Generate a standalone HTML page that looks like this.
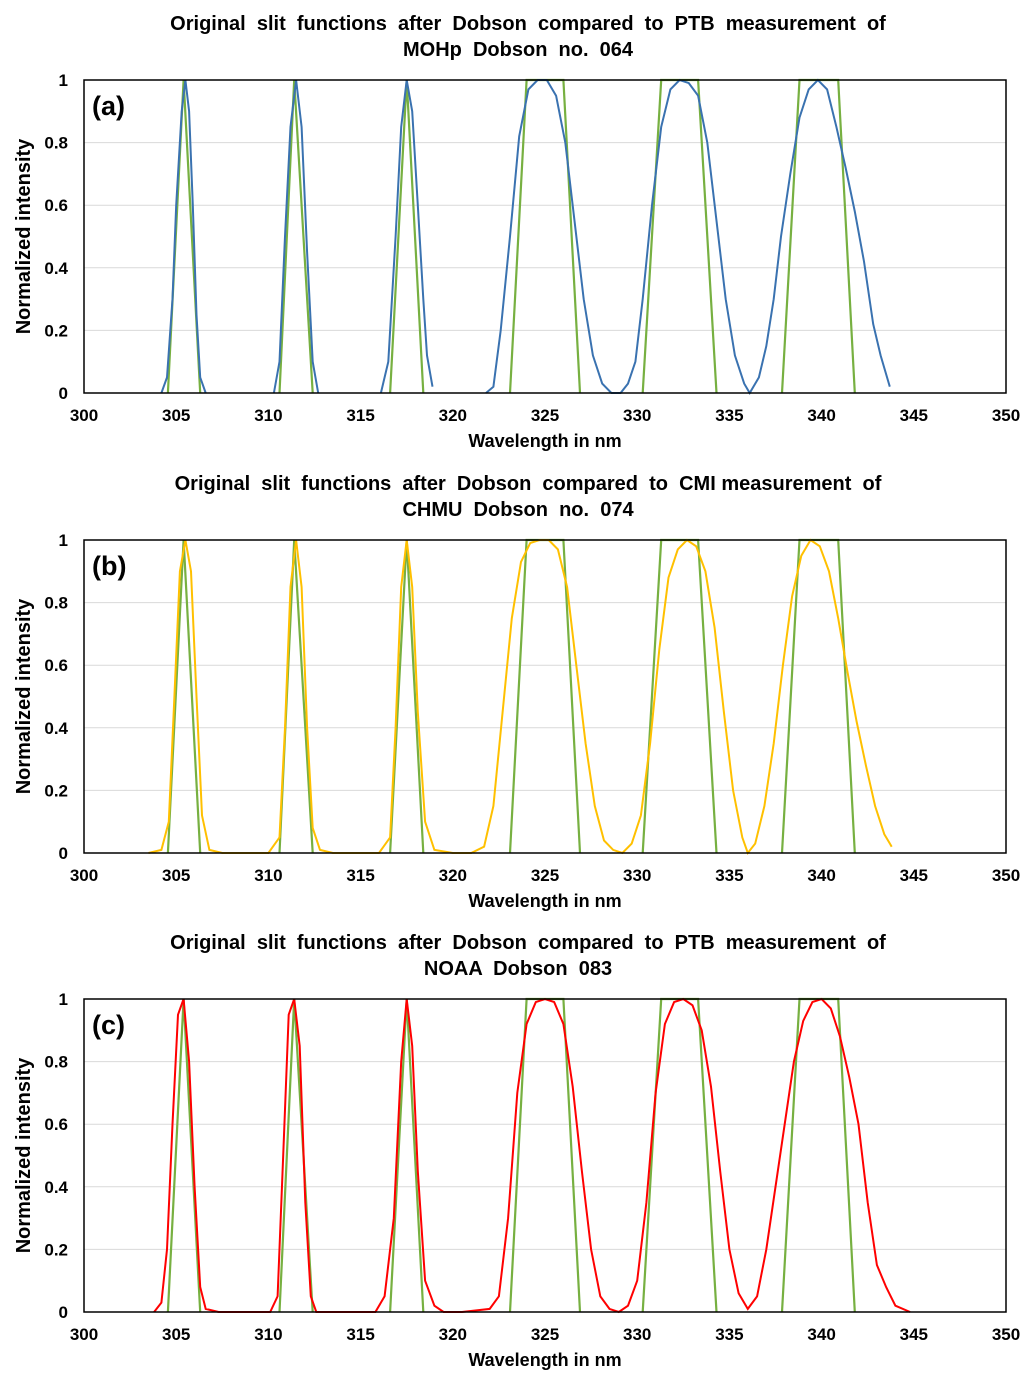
<!DOCTYPE html>
<html><head><meta charset="utf-8"><style>
body{margin:0;background:#fff}
svg{display:block;font-family:"Liberation Sans",Arial,sans-serif;font-weight:bold}
text{white-space:pre}
</style></head><body>
<svg id="chart" width="1036" height="1377" viewBox="0 0 1036 1377" xmlns="http://www.w3.org/2000/svg"></svg>
<script>
const xTicks=[300,305,310,315,320,325,330,335,340,345,350];
const yTicks=[0,0.2,0.4,0.6,0.8,1];
const yTickLabels=["0","0.2","0.4","0.6","0.8","1"];
const greenX=[304.55,305.4,306.3,null,310.6,311.4,312.4,null,316.6,317.5,318.4,null,323.1,324.0,326.0,326.9,null,330.3,331.3,333.3,334.3,null,337.85,338.8,340.9,341.8];
const greenY=[0,1,0,null,0,1,0,null,0,1,0,null,0,1,1,0,null,0,1,1,0,null,0,1,1,0];
const blueX=[304.2,304.5,304.8,305.0,305.3,305.5,305.7,305.9,306.1,306.3,306.6,null,310.3,310.6,310.9,311.2,311.5,311.8,312.1,312.4,312.7,null,316.1,316.5,316.9,317.2,317.5,317.8,318.1,318.4,318.6,318.9,null,321.8,322.2,322.6,323.1,323.6,324.1,324.6,325.1,325.6,326.1,326.6,327.1,327.6,328.1,328.6,329.1,329.5,329.9,330.3,330.8,331.3,331.8,332.3,332.8,333.3,333.8,334.3,334.8,335.3,335.8,336.1,336.6,337.0,337.4,337.8,338.3,338.8,339.3,339.8,340.3,340.8,341.3,341.8,342.3,342.8,343.2,343.7];
const blueY=[0,0.05,0.3,0.6,0.9,1.0,0.9,0.6,0.25,0.05,0,null,0,0.1,0.5,0.85,1.0,0.85,0.45,0.1,0,null,0,0.1,0.5,0.85,1.0,0.9,0.6,0.3,0.12,0.02,null,0,0.02,0.2,0.5,0.82,0.97,1.0,1.0,0.95,0.8,0.55,0.3,0.12,0.03,0,0,0.03,0.1,0.3,0.6,0.85,0.97,1.0,0.99,0.95,0.8,0.55,0.3,0.12,0.03,0,0.05,0.15,0.3,0.5,0.7,0.88,0.97,1.0,0.97,0.85,0.72,0.58,0.42,0.22,0.12,0.02];
const yellowX=[303.5,304.2,304.6,304.9,305.2,305.5,305.8,306.1,306.4,306.8,307.5,310.0,310.6,310.9,311.2,311.5,311.8,312.1,312.4,312.8,313.5,316.0,316.6,316.9,317.2,317.5,317.8,318.1,318.5,319.0,320.0,321.0,321.7,322.2,322.7,323.2,323.7,324.2,324.7,325.2,325.7,326.2,326.7,327.2,327.7,328.2,328.7,329.2,329.7,330.2,330.7,331.2,331.7,332.2,332.7,333.2,333.7,334.2,334.7,335.2,335.7,336.0,336.4,336.9,337.4,337.9,338.4,338.9,339.4,339.9,340.4,340.9,341.4,341.9,342.4,342.9,343.4,343.8];
const yellowY=[0,0.01,0.1,0.5,0.9,1.0,0.9,0.5,0.12,0.01,0,0,0.05,0.4,0.85,1.0,0.85,0.4,0.08,0.01,0,0,0.05,0.4,0.85,1.0,0.85,0.45,0.1,0.01,0,0,0.02,0.15,0.45,0.75,0.93,0.99,1.0,1.0,0.97,0.85,0.6,0.35,0.15,0.04,0.01,0,0.03,0.12,0.35,0.65,0.88,0.97,1.0,0.98,0.9,0.72,0.45,0.2,0.05,0,0.03,0.15,0.35,0.6,0.82,0.95,1.0,0.98,0.9,0.75,0.58,0.42,0.28,0.15,0.06,0.02];
const redX=[303.8,304.2,304.5,304.8,305.1,305.4,305.7,306.0,306.3,306.6,307.3,310.1,310.5,310.8,311.1,311.4,311.7,312.0,312.3,312.6,315.8,316.3,316.8,317.2,317.5,317.8,318.1,318.5,319.0,319.5,320.5,322.0,322.5,323.0,323.5,324.0,324.5,325.0,325.5,326.0,326.5,327.0,327.5,328.0,328.5,329.0,329.5,330.0,330.5,331.0,331.5,332.0,332.5,333.0,333.5,334.0,334.5,335.0,335.5,336.0,336.5,337.0,337.5,338.0,338.5,339.0,339.5,340.0,340.5,341.0,341.5,342.0,342.5,343.0,343.5,344.0,344.8];
const redY=[0,0.03,0.2,0.6,0.95,1.0,0.8,0.4,0.08,0.01,0,0,0.05,0.5,0.95,1.0,0.85,0.35,0.05,0,0,0.05,0.3,0.8,1.0,0.85,0.45,0.1,0.02,0,0,0.01,0.05,0.3,0.7,0.92,0.99,1.0,0.99,0.92,0.72,0.45,0.2,0.05,0.01,0,0.02,0.1,0.35,0.7,0.92,0.99,1.0,0.98,0.9,0.72,0.45,0.2,0.06,0.01,0.05,0.2,0.4,0.6,0.8,0.93,0.99,1.0,0.97,0.88,0.75,0.6,0.35,0.15,0.08,0.02,0];
const panels=[
 {id:"a",top:80,title1:"Original  slit  functions  after  Dobson  compared  to  PTB  measurement  of",title2:"MOHp  Dobson  no.  064",ty:30,xs:blueX,ys:blueY,color:"#3a72b0"},
 {id:"b",top:540,title1:"Original  slit  functions  after  Dobson  compared  to  CMI measurement  of",title2:"CHMU  Dobson  no.  074",ty:490,xs:yellowX,ys:yellowY,color:"#ffc000"},
 {id:"c",top:999,title1:"Original  slit  functions  after  Dobson  compared  to  PTB  measurement  of",title2:"NOAA  Dobson  083",ty:949,xs:redX,ys:redY,color:"#ff0000"}
];
const NS="http://www.w3.org/2000/svg",svg=document.getElementById("chart");
const L=84,R=1006,H=313;
function mk(t,a,p){const e=document.createElementNS(NS,t);for(const k in a)e.setAttribute(k,a[k]);(p||svg).appendChild(e);return e;}
function xs(v){return L+(v-300)/50*(R-L);}
function pathFrom(X,Y,ys){let d="",pen=false;for(let i=0;i<X.length;i++){if(X[i]===null){pen=false;continue;}d+=(pen?"L":"M")+xs(X[i]).toFixed(1)+","+ys(Y[i]).toFixed(1);pen=true;}return d;}
panels.forEach(p=>{
 const g=mk("g",{});
 
 
 const ysc=v=>p.top+H-v*H;
 const t=mk("text",{x:528,y:p.ty,"text-anchor":"middle","font-size":20},g);t.textContent=p.title1;
 
 const t2=mk("text",{x:518,y:p.ty+26,"text-anchor":"middle","font-size":20},g);t2.textContent=p.title2;
 
 yTicks.forEach((v,i)=>{
  if(v>0){const gl=mk("line",{x1:L,x2:R,y1:ysc(v),y2:ysc(v),stroke:"#d9d9d9","stroke-width":1},g);}
  const tl=mk("text",{x:68,y:ysc(v)+6,"text-anchor":"end","font-size":17},g);tl.textContent=yTickLabels[i];
  
 });
 xTicks.forEach(v=>{
  const tl=mk("text",{x:xs(v),y:p.top+H+28,"text-anchor":"middle","font-size":17},g);tl.textContent=v;
  
 });
 const gp=mk("path",{d:pathFrom(greenX,greenY,ysc),fill:"none",stroke:"#77b041","stroke-width":2.2},g);
 
 const mp=mk("path",{d:pathFrom(p.xs,p.ys,ysc),fill:"none",stroke:p.color,"stroke-width":2},g);
 
 const b=mk("rect",{x:L,y:p.top,width:R-L,height:H,fill:"none",stroke:"#000","stroke-width":1.5},g);
 
 const lb=mk("text",{x:92,y:p.top+35,"font-size":27},g);lb.textContent="("+p.id+")";
 
 const xt=mk("text",{x:545,y:p.top+H+54,"text-anchor":"middle","font-size":18},g);xt.textContent="Wavelength in nm";
 
 const cy=p.top+H/2;
 const yt=mk("text",{x:30,y:cy,"text-anchor":"middle","font-size":20,transform:"rotate(-90 30 "+cy+")"},g);yt.textContent="Normalized intensity";
 
});
</script>
</body></html>
